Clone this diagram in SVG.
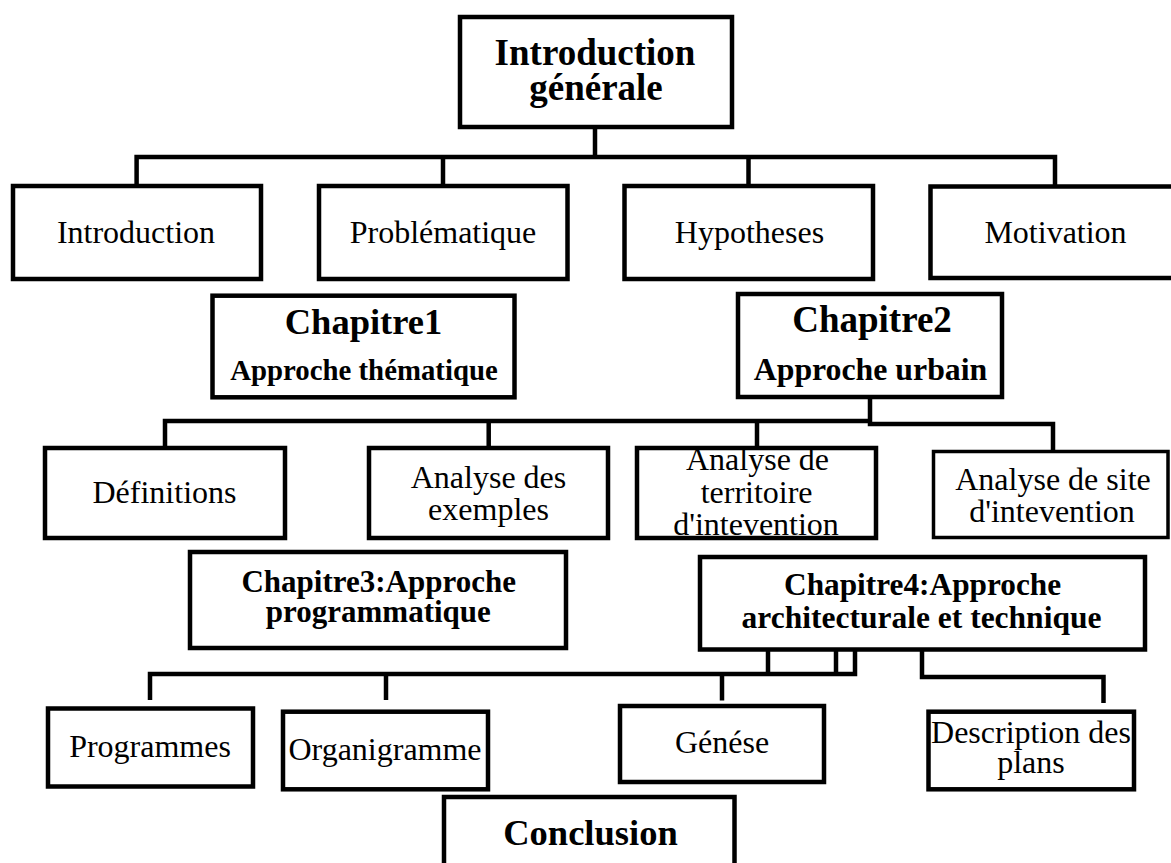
<svg xmlns="http://www.w3.org/2000/svg" width="1171" height="863" viewBox="0 0 1171 863">
<style>
.box{fill:#fff;stroke:#000;stroke-width:4.5}
.thin{stroke-width:3.5}
.con{fill:none;stroke:#000;stroke-width:4.5;stroke-linejoin:miter}
text{font-family:"Liberation Serif","Times New Roman",serif;fill:#000;text-anchor:middle}
.b{font-weight:bold}
.r{font-size:32px}
</style>
<rect width="1171" height="863" fill="#fff"/>
<g id="connectors">
<path class="con" d="M595,127 V157"/>
<path class="con" d="M136.6,186 V157 H1055 V186"/>
<path class="con" d="M443,157 V186"/>
<path class="con" d="M748.5,157 V186"/>
<path class="con" d="M165,448 V421 H870"/>
<path class="con" d="M488.7,421 V448"/>
<path class="con" d="M757,421 V448"/>
<path class="con" d="M870,397 V424 H1053 V451.5"/>
<path class="con" d="M150,700 V674 H855 V650"/>
<path class="con" d="M386,674 V700"/>
<path class="con" d="M722,674 V700.5"/>
<path class="con" d="M768,674 V650"/>
<path class="con" d="M836,674 V650"/>
<path class="con" d="M922,650 V677 H1103.5 V703"/>
</g>
<g id="intro_generale">
<rect class="box" x="460" y="17" width="272" height="110"/>
<text class="b" x="595" y="65" font-size="37">Introduction</text>
<text class="b" x="596" y="100" font-size="37">générale</text>
</g>
<g id="introduction">
<rect class="box" x="13" y="186" width="248" height="93"/>
<text class="r" x="136" y="243">Introduction</text>
</g>
<g id="problematique">
<rect class="box" x="319" y="186" width="248.5" height="93"/>
<text class="r" x="443" y="243">Problématique</text>
</g>
<g id="hypotheses">
<rect class="box" x="624.5" y="186" width="248.5" height="93"/>
<text class="r" x="749.5" y="243">Hypotheses</text>
</g>
<g id="motivation">
<rect class="box" x="930.5" y="186.5" width="260" height="91.5"/>
<text class="r" x="1055.5" y="243">Motivation</text>
</g>
<g id="chapitre1">
<rect class="box" x="212.5" y="295.7" width="302" height="101.6"/>
<text class="b" x="363.5" y="334" font-size="36.5">Chapitre1</text>
<text class="b" x="364" y="380" font-size="28.8">Approche thématique</text>
</g>
<g id="chapitre2">
<rect class="box" x="738" y="294" width="264" height="103"/>
<text class="b" x="872" y="331.7" font-size="37">Chapitre2</text>
<text class="b" x="870.5" y="380" font-size="31.8">Approche urbain</text>
</g>
<g id="definitions">
<rect class="box" x="45" y="448" width="240" height="90"/>
<text class="r" x="164.5" y="503">Définitions</text>
</g>
<g id="analyse_exemples">
<rect class="box" x="369" y="448" width="239" height="90"/>
<text class="r" x="488.5" y="488">Analyse des</text>
<text class="r" x="488.5" y="520">exemples</text>
</g>
<g id="analyse_territoire">
<rect class="box" x="637" y="448" width="239" height="90"/>
<text class="r" x="757.5" y="470">Analyse de</text>
<text class="r" x="756.6" y="503">territoire</text>
<text class="r" x="756" y="535">d'intevention</text>
</g>
<g id="analyse_site">
<rect class="box thin" x="933.5" y="451.5" width="234.5" height="86"/>
<text class="r" x="1053" y="490">Analyse de site</text>
<text class="r" x="1052" y="521.7">d'intevention</text>
</g>
<g id="chapitre3">
<rect class="box" x="190" y="552" width="376" height="96"/>
<text class="b" x="378.7" y="591.7" font-size="31">Chapitre3:Approche</text>
<text class="b" x="378.3" y="621.7" font-size="31">programmatique</text>
</g>
<g id="chapitre4">
<rect class="box" x="700" y="557" width="445" height="92.5"/>
<text class="b" x="922.6" y="595" font-size="31.3">Chapitre4:Approche</text>
<text class="b" x="921.5" y="628.3" font-size="31.5">architecturale et technique</text>
</g>
<g id="programmes">
<rect class="box" x="48" y="708.5" width="205" height="78"/>
<text class="r" x="150" y="756.7">Programmes</text>
</g>
<g id="organigramme">
<rect class="box" x="283" y="711.7" width="205" height="77.6"/>
<text class="r" x="385" y="760">Organigramme</text>
</g>
<g id="genese">
<rect class="box" x="620" y="706" width="204" height="76"/>
<text class="r" x="722" y="753.3">Génése</text>
</g>
<g id="description_plans">
<rect class="box" x="928.5" y="711.7" width="205.5" height="77.6"/>
<text class="r" x="1031" y="743.3">Description des</text>
<text class="r" x="1031" y="773.3">plans</text>
</g>
<g id="conclusion">
<rect class="box" x="444" y="797" width="290.5" height="100"/>
<text class="b" x="590.5" y="845" font-size="36.5">Conclusion</text>
</g>
</svg>
